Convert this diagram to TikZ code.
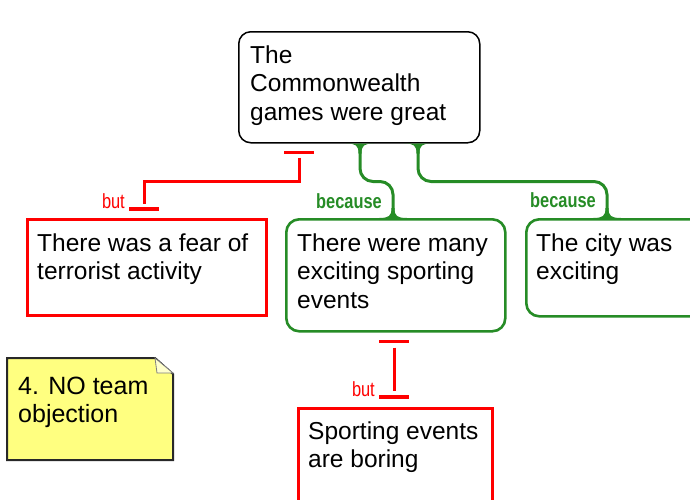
\documentclass[tikz,border=0pt]{standalone}
\usepackage{fontspec}
\setmainfont{Liberation Sans}
\newfontfamily\narrowfont[FakeStretch=0.8]{Liberation Sans}
\usetikzlibrary{calc}
\definecolor{argred}{RGB}{255,0,0}
\definecolor{arggreen}{RGB}{38,140,38}
\definecolor{notefill}{RGB}{255,255,128}
\definecolor{notefold}{RGB}{255,255,205}
\definecolor{noteedge}{RGB}{40,40,40}

\begin{document}
\begin{tikzpicture}[x=1pt,y=-1pt,
  % multi-line text: the base anchor sits on the last line
  claimtext/.style={anchor=base west, inner sep=0pt, align=left,
    font=\fontsize{24.5}{28.5}\selectfont},
  mainbox/.style={draw=black, line width=1.5pt, rounded corners=12pt,
    anchor=north west, inner sep=0pt},
  supportbox/.style={draw=arggreen, line width=2.6pt, rounded corners=13pt,
    anchor=north west, inner sep=0pt},
  objectbox/.style={draw=argred, line width=3pt,
    anchor=north west, inner sep=0pt},
  becauseline/.style={draw=arggreen, line width=3pt, rounded corners=13pt},
  butline/.style={draw=argred, line width=3pt, line join=miter},
  butbar/.style={draw=argred, line width=3.5pt},
  becauselabel/.style={text=arggreen, anchor=base east, inner sep=0pt,
    font=\narrowfont\bfseries\fontsize{20.5}{24}\selectfont},
  butlabel/.style={text=argred, anchor=base east, inner sep=0pt,
    font=\narrowfont\fontsize{20.5}{24}\selectfont},
  flare/.pic={\fill[arggreen] (-14,0) .. controls (-4,0) and (-1.5,-2) ..
    (-1.5,-10) -- (1.5,-10) .. controls (1.5,-2) and (4,0) .. (14,0) -- cycle;},
]
\useasboundingbox (0,0) rectangle (690,499);

% claim and its reasons
\node[mainbox, minimum width=241pt, minimum height=111pt] (main) at (238,31) {};
\node[claimtext] (mainText) at ($(main.north west)+(12,89)$)
  {The\\Commonwealth\\games were great};

\node[objectbox, minimum width=239pt, minimum height=96pt] (fear) at (26,218) {};
\node[claimtext] (fearText) at ($(fear.north west)+(11,61.5)$)
  {There was a fear of\\terrorist activity};

\node[supportbox, minimum width=219pt, minimum height=112pt] (sport) at (285,218) {};
\node[claimtext] (sportText) at ($(sport.north west)+(12,90)$)
  {There were many\\exciting sporting\\events};

\node[supportbox, minimum width=180pt, minimum height=97pt] (city) at (525,218) {};
\node[claimtext] (cityText) at ($(city.north west)+(11,61.5)$)
  {The city was\\exciting};

\node[objectbox, minimum width=194pt, minimum height=115pt] (boring) at (297,407) {};
\node[claimtext] (boringText) at ($(boring.north west)+(11,60.5)$)
  {Sporting events\\are boring};

% "because" links
\coordinate (g1top) at ($(main.south west)+(122,0)$);
\coordinate (g1bot) at ($(sport.north west)+(108,0)$);
\coordinate (g2top) at ($(main.south west)+(180,0)$);
\coordinate (g2bot) at ($(city.north west)+(82,0)$);
\draw[becauseline] (g1top) -- ($(g1top)+(0,38)$) -| (g1bot);
\draw[becauseline] (g2top) -- ($(g2top)+(0,38)$) -| (g2bot);
\pic[yscale=-1] at (g1top) {flare};
\pic[yscale=-1] at (g2top) {flare};
\pic at (g1bot) {flare};
\pic at (g2bot) {flare};
\node[becauselabel] (because1) at ($(g1bot)+(-11,-10)$) {because};
\node[becauselabel] (because2) at ($(g2bot)+(-11,-11)$) {because};

% "but" links
\coordinate (r1top) at ($(main.south west)+(61,9)$);
\coordinate (r1bot) at ($(fear.north west)+(118,-9)$);
\coordinate (r2top) at ($(sport.south west)+(109,9)$);
\coordinate (r2bot) at ($(boring.north west)+(97,-10)$);
\draw[butbar] ($(r1top)+(-15,0)$) -- ($(r1top)+(15,0)$);
\draw[butbar] ($(r1bot)+(-15,0)$) -- ($(r1bot)+(15,0)$);
\draw[butline] ($(r1top)+(0,5)$) -- ($(r1top)+(0,29)$) -| ($(r1bot)+(0,-5)$);
\draw[butbar] ($(r2top)+(-15,0)$) -- ($(r2top)+(15,0)$);
\draw[butbar] ($(r2bot)+(-15,0)$) -- ($(r2bot)+(15,0)$);
\draw[butline] ($(r2top)+(0,6)$) -- ($(r2bot)+(0,-6)$);
\node[butlabel] (but1) at ($(r1bot)+(-19,-1)$) {but};
\node[butlabel] (but2) at ($(r2bot)+(-19,-1)$) {but};

% sticky note
\coordinate (note) at (7,358);
\filldraw[fill=notefill, draw=noteedge, line width=2pt, line join=miter]
  (note) -- ++(148,0) -- ++(18,16) -- ++(0,86) -- ++(-166,0) -- cycle;
\filldraw[fill=notefold, draw=noteedge!60, line width=0.8pt]
  ($(note)+(148,0)$) -- ($(note)+(150,15)$) -- ($(note)+(166,15)$) -- cycle;
\node[anchor=base west, inner sep=0pt, align=left,
  font=\fontsize{25}{28}\selectfont] (noteText) at ($(note)+(11,64)$)
  {4. NO team\\objection};
\end{tikzpicture}
\end{document}
